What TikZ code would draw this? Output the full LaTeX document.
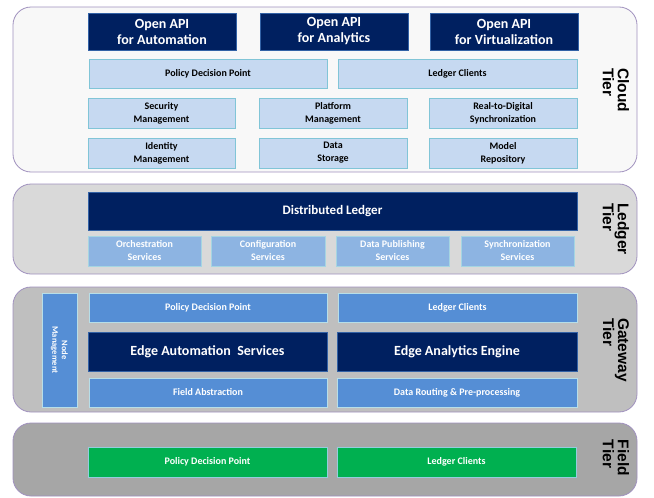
\documentclass[tikz,border=0pt]{standalone}
\usepackage{fontspec}
\setmainfont{Carlito}
\newfontfamily\tierfont{Liberation Sans}
\usetikzlibrary{shadows}
\definecolor{navy}{RGB}{0,32,96}
\definecolor{lightblue}{RGB}{198,217,241}
\definecolor{tealb}{RGB}{75,172,198}
\definecolor{midblue}{RGB}{141,180,226}
\definecolor{gwblue}{RGB}{85,142,213}
\definecolor{fgreen}{RGB}{0,176,80}
\definecolor{panelborder}{RGB}{160,145,190}
\definecolor{cloudfill}{RGB}{248,248,248}
\definecolor{ledgerfill}{RGB}{217,217,217}
\definecolor{gwfill}{RGB}{191,191,191}
\definecolor{fieldfill}{RGB}{166,166,166}
\tikzset{
  panel/.style={draw=panelborder, line width=0.8pt, rounded corners=18pt},
  basebox/.style={inner sep=0pt, align=center, font=\bfseries, drop shadow={shadow xshift=1pt, shadow yshift=-1pt, opacity=0.35}},
  navybox/.style={basebox, fill=navy, draw=gwblue!60!navy, line width=0.6pt, text=white},
  cloudbox/.style={basebox, fill=lightblue, draw=tealb!70, line width=0.6pt, text=black},
  ledgerbox/.style={basebox, fill=midblue, draw=tealb!50, line width=0.6pt, text=white},
  gwbox/.style={basebox, fill=gwblue, draw=tealb!40!white, line width=0.6pt, text=white},
  greenbox/.style={basebox, fill=fgreen, draw=tealb!60, line width=0.6pt, text=white},
  bigtxt/.style={font=\bfseries\fontsize{14}{16}\selectfont},
  smalltxt/.style={font=\bfseries\fontsize{10}{13}\selectfont},
  tierlabel/.style={font=\tierfont\bfseries\fontsize{15.5}{15}\selectfont, rotate=-90, align=left, inner sep=0pt, text=black}
}
\newcommand{\bx}[7]{\node[#6, minimum width={(#4-#2)*1pt}, minimum height={(#5-#3)*1pt}] (#1) at ({(#2+#4)/2},{(#3+#5)/2}) {#7};}
\begin{document}
\begin{tikzpicture}[x=1pt,y=-1pt]
\useasboundingbox (0,0) rectangle (654,498);
% panels
\draw[panel, fill=cloudfill] (13,7) rectangle (637,172);
\draw[panel, fill=ledgerfill] (13,184) rectangle (637,274);
\draw[panel, fill=gwfill] (13,287) rectangle (637,412);
\draw[panel, fill=fieldfill] (13,423) rectangle (637,496);
% Cloud tier
\bx{api1}{88}{13}{236}{50}{navybox, bigtxt}{Open API\\for Automation}
\bx{api2}{260}{13}{408}{50}{navybox, bigtxt}{Open API\\for Analytics}
\bx{api3}{430}{13}{578}{50}{navybox, bigtxt}{Open API\\for Virtualization}
\bx{cpdp}{89}{59}{327}{88}{cloudbox, smalltxt}{Policy Decision Point}
\bx{clc}{338}{59}{577}{88}{cloudbox, smalltxt}{Ledger Clients}
\bx{secm}{88}{98}{235}{128}{cloudbox, smalltxt}{Security\\Management}
\bx{platm}{259}{98}{407}{128}{cloudbox, smalltxt}{Platform\\Management}
\bx{r2d}{429}{98}{577}{128}{cloudbox, smalltxt}{Real-to-Digital\\Synchronization}
\bx{idm}{88}{138}{235}{168}{cloudbox, smalltxt}{Identity\\Management}
\bx{dstor}{259}{138}{407}{168}{cloudbox, smalltxt}{Data\\Storage}
\bx{mrep}{429}{138}{577}{168}{cloudbox, smalltxt}{Model\\Repository}
\node[tierlabel] (cloudt) at (616,90) {Cloud\\Tier};
% Ledger tier
\bx{dl}{88}{192}{577}{230}{navybox, font=\bfseries\fontsize{13}{15}\selectfont}{Distributed Ledger}
\bx{orch}{88}{236}{201}{266}{ledgerbox, smalltxt}{Orchestration\\Services}
\bx{conf}{211}{236}{325}{266}{ledgerbox, smalltxt}{Configuration\\Services}
\bx{dpub}{336}{236}{449}{266}{ledgerbox, smalltxt}{Data Publishing\\Services}
\bx{sync}{461}{236}{574}{266}{ledgerbox, smalltxt}{Synchronization\\Services}
\node[tierlabel] (ledgert) at (616,229) {Ledger\\Tier};
% Gateway tier
\bx{nodem}{42}{293}{77}{407}{gwbox}{}
\node[font=\bfseries\fontsize{8.5}{9.5}\selectfont, text=white, rotate=-90, align=center, inner sep=0pt] (nodemt) at (nodem.center) {Node\\Management};
\bx{gpdp}{89}{293}{327}{322}{gwbox, smalltxt}{Policy Decision Point}
\bx{glc}{338}{293}{577}{322}{gwbox, smalltxt}{Ledger Clients}
\bx{eas}{88}{332}{327}{371}{navybox, bigtxt}{Edge Automation\ \ Services}
\bx{eae}{337}{332}{577}{371}{navybox, bigtxt}{Edge Analytics Engine}
\bx{fabs}{89}{378}{327}{407}{gwbox, smalltxt}{Field Abstraction}
\bx{drp}{337}{378}{577}{407}{gwbox, smalltxt}{Data Routing \& Pre-processing}
\node[tierlabel] (gwt) at (616,350) {Gateway\\Tier};
% Field tier
\bx{fpdp}{88}{447}{327}{477}{greenbox, smalltxt}{Policy Decision Point}
\bx{flc}{337}{447}{576}{477}{greenbox, smalltxt}{Ledger Clients}
\node[tierlabel] (fieldt) at (616,458) {Field\\Tier};
\end{tikzpicture}
\end{document}
